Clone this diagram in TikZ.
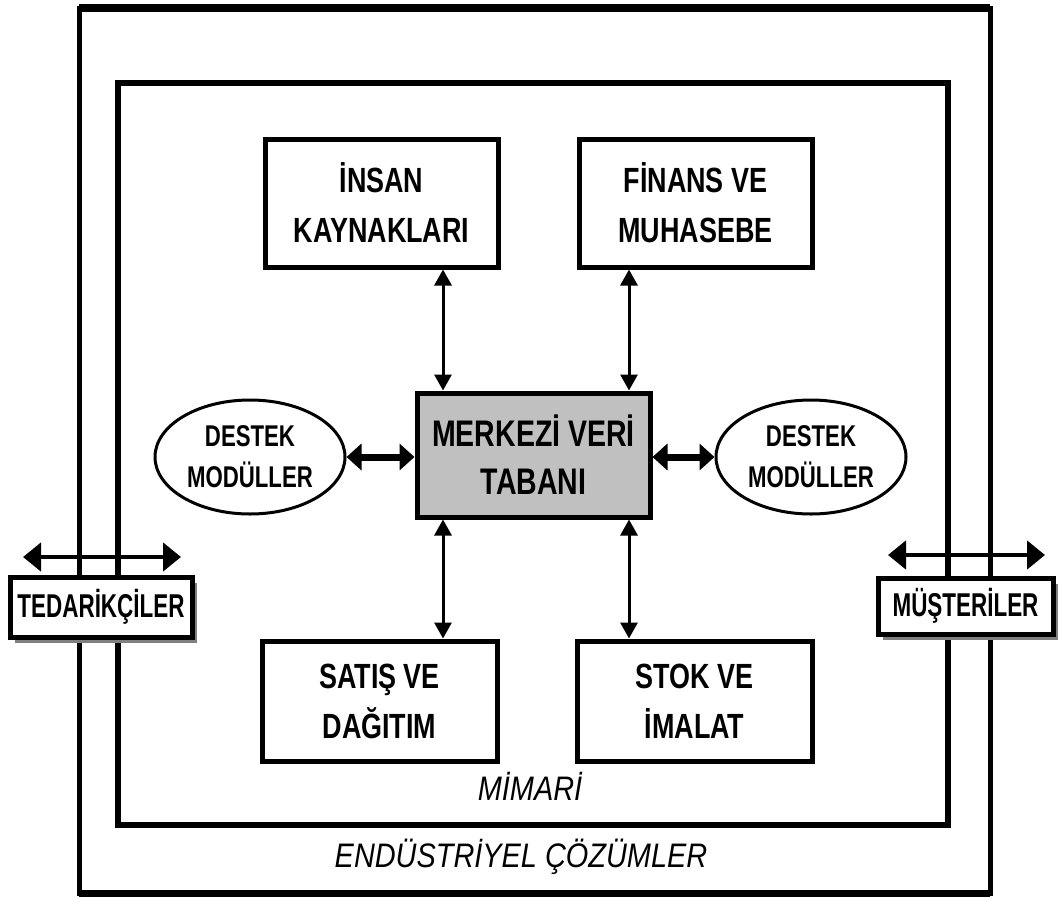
\documentclass[tikz,border=0pt]{standalone}
\usepackage{fontspec}
\setmainfont{Liberation Sans}
\newfontfamily\boxfont[FakeStretch=0.77]{Liberation Sans}
\newfontfamily\ellfont[FakeStretch=0.74]{Liberation Sans}
\newfontfamily\sidefont[FakeStretch=0.68]{Liberation Sans}
\newfontfamily\capfont[FakeStretch=0.85]{Liberation Sans}
\usetikzlibrary{arrows.meta,shapes.geometric,shadows}
\definecolor{boxgray}{RGB}{192,192,192}
\definecolor{shadowgray}{RGB}{128,128,128}
\begin{document}
\begin{tikzpicture}[x=1pt,y=-1pt,
  modbox/.style={draw,line width=5pt,fill=white,inner sep=0pt,align=center,
    font=\boxfont\bfseries\fontsize{35}{50}\selectfont},
  ellbox/.style={draw,ellipse,line width=3pt,fill=white,inner sep=0pt,align=center,
    minimum width=190pt,minimum height=114pt,
    font=\ellfont\bfseries\fontsize{30}{41}\selectfont},
  sidebox/.style={draw,line width=5pt,fill=white,inner sep=0pt,align=center,
    drop shadow={shadow xshift=5pt,shadow yshift=-6pt,fill=shadowgray,opacity=1},
    font=\sidefont\bfseries\fontsize{33}{40}\selectfont},
  varrow/.style={line width=3pt,{Triangle[length=16pt,width=17pt]}-{Triangle[length=16pt,width=17pt]}},
  harrow/.style={line width=7pt,{Triangle[length=15pt,width=26pt]}-{Triangle[length=15pt,width=26pt]}},
  sarrow/.style={line width=4.5pt,{Triangle[length=18pt,width=28pt]}-{Triangle[length=18pt,width=28pt]}},
  captext/.style={font=\capfont\itshape\fontsize{34}{40}\selectfont,inner sep=0pt,anchor=base}
]
\useasboundingbox (0,0) rectangle (1060,897);
% frames
\draw[line width=5pt] (79,8) rectangle (990,893);
\draw[line width=7.5pt,line cap=square] (79,8) -- (990,8);
\draw[line width=7pt,line cap=square] (79,893) -- (990,893);
\draw[line width=6.5pt] (118,83) rectangle (948,825);
% captions
\node[captext] (mimari) at (530,800) {MİMARİ};
\node[captext] (endus) at (521,867) {ENDÜSTRİYEL ÇÖZÜMLER};
% modules
\node[modbox,minimum width=233pt,minimum height=128pt] (ik) at (381.5,203) {İNSAN\\KAYNAKLARI};
\node[modbox,minimum width=233pt,minimum height=128pt] (fm) at (695.5,203) {FİNANS VE\\MUHASEBE};
\node[modbox,minimum width=235pt,minimum height=120pt] (sd) at (379.5,701) {SATIŞ VE\\DAĞITIM};
\node[modbox,minimum width=235pt,minimum height=120pt] (si) at (694.5,701) {STOK VE\\İMALAT};
\node[modbox,fill=boxgray,minimum width=233pt,minimum height=124pt,
  font=\boxfont\bfseries\fontsize{37}{48}\selectfont] (mv) at (533.5,455) {MERKEZİ VERİ\\TABANI};
\node[ellbox] (el) at (250,457) {DESTEK\\MODÜLLER};
\node[ellbox] (er) at (811,457) {DESTEK\\MODÜLLER};
% side boxes
\node[sidebox,minimum width=182pt,minimum height=60pt] (ted) at (101,607) {TEDARİKÇİLER};
\node[sidebox,minimum width=175pt,minimum height=56pt] (mus) at (965.5,606) {MÜŞTERİLER};
% arrows
\coordinate (xl) at (443,0);
\coordinate (xr) at (629,0);
\draw[varrow] (ik.south -| xl) -- (mv.north -| xl);
\draw[varrow] (fm.south -| xr) -- (mv.north -| xr);
\draw[varrow] (mv.south -| xl) -- (sd.north -| xl);
\draw[varrow] (mv.south -| xr) -- (si.north -| xr);
\draw[harrow] (el.east) -- (el.east -| mv.west);
\draw[harrow] (er.west -| mv.east) -- (er.west);
\coordinate (tl) at (23,557);
\coordinate (tr) at (181,557);
\coordinate (ml) at (888,555);
\coordinate (mr) at (1045,555);
\draw[sarrow] (tl) -- (tr);
\draw[sarrow] (ml) -- (mr);
\end{tikzpicture}
\end{document}
